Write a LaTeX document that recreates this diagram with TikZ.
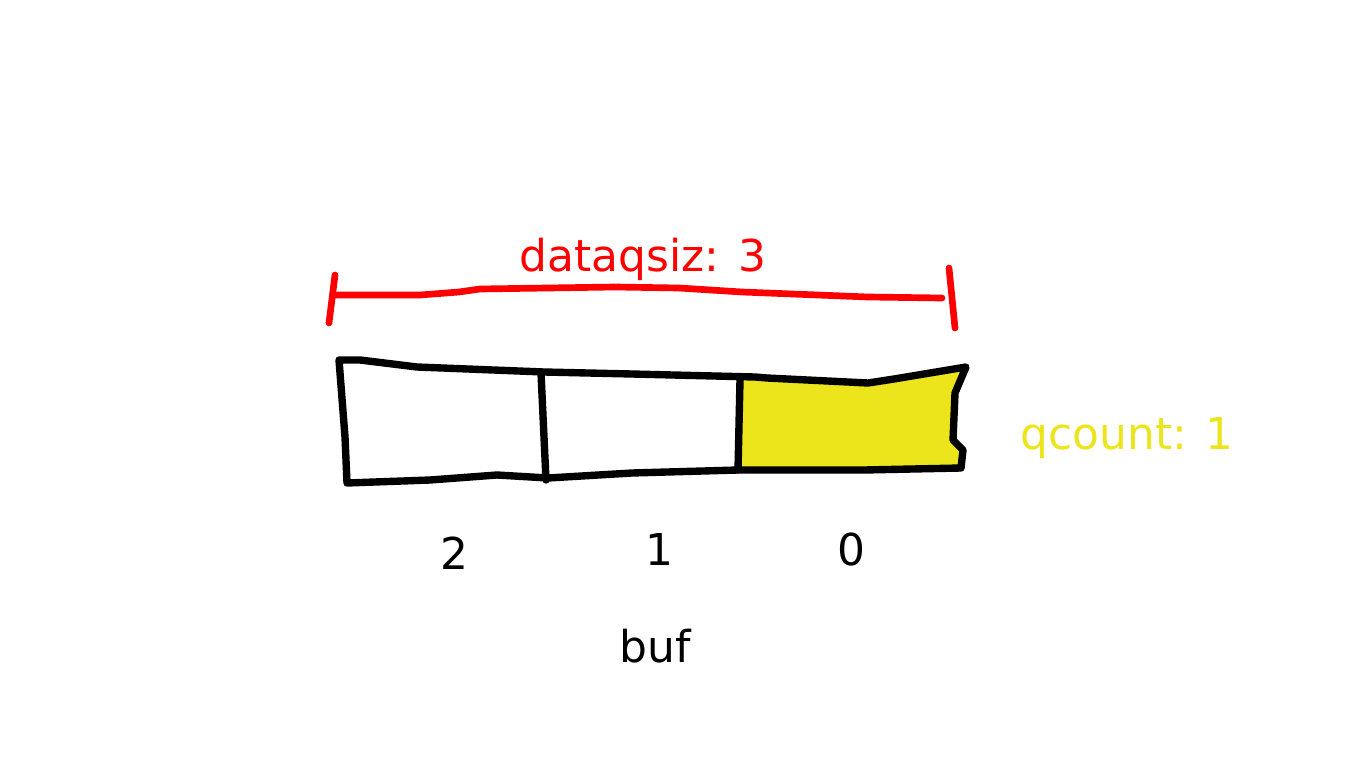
\documentclass[tikz,border=0pt]{standalone}
\usepackage{fontspec}
\setmainfont{DejaVu Sans}
\usetikzlibrary{calc,positioning}
\definecolor{qyellow}{RGB}{237,229,28}
\definecolor{sizred}{RGB}{255,0,0}
\tikzset{
  cellline/.style = {
    line width=4.2pt,
    line join=round,
    line cap=round
  },
  sizeline/.style = {
    line width=3.8pt,
    draw=sizred,
    line join=round,
    line cap=round
  },
  lbl/.style = {
    anchor=base,
    inner sep=0pt,
    font=\fontsize{25}{30}\selectfont
  }
}

\begin{document}
\begin{tikzpicture}[x=0.02cm,y=-0.02cm]
		\useasboundingbox (0,0) rectangle (1368,770);
		% size bracket
		\coordinate (sizl) at (335,295);
		\coordinate (sizr) at (942,298);
		\draw[sizeline] (sizl) -- (420,295) -- (459,292) -- (480,289) -- (615,287)
		  -- (679,288) -- (742,292) -- (868,297) -- (sizr);
		\draw[sizeline] ($(sizl)+(0,-20)$) -- ($(sizl)+(-6,28)$);
		\draw[sizeline] ($(sizr)+(7,-30)$) -- ($(sizr)+(13,30)$);
		\node[lbl, text=sizred] (siz) at (643,271) {dataqsiz: 3};
%		
		% buffer cells
		\fill[qyellow] (740,380) -- (755,377) -- (767,378) -- (868,383) -- (894,379)
		  -- (966,367) -- (955,393) -- (953,440) -- (963,450) -- (961,468)
		  -- (864,470) -- (738,470) -- cycle;
		\draw[cellline] (339,360) -- (360,360) -- (417,367) -- (544,372) -- (632,374)
		  -- (755,377) -- (767,378) -- (868,383) -- (894,379) -- (966,367)
		  -- (955,393) -- (953,440) -- (963,450) -- (961,468) -- (864,470)
		  -- (738,470) -- (632,473) -- (548,478) -- (497,475) -- (430,480)
		  -- (347,483) -- (345,437) -- cycle;
		\coordinate (d1t) at (541,373);
		\coordinate (d1b) at (546,480);
		\coordinate (d2t) at (740,380);
		\coordinate (d2b) at (738,470);
		\draw[cellline] (d1t) -- (d1b);
		\draw[cellline] (d2t) -- (d2b);
		
		\node[lbl, text=qyellow] (qcnt) at (1127,449) {qcount: 1};
		
		\node[lbl] (idx2) at (454,569) {2};
		\node[lbl] (idx1) at (659,565) {1};
		\node[lbl] (idx0) at (851,565) {0};
		\node[lbl] (buf) at (655,662) {buf};
	\end{tikzpicture}
\end{document}
